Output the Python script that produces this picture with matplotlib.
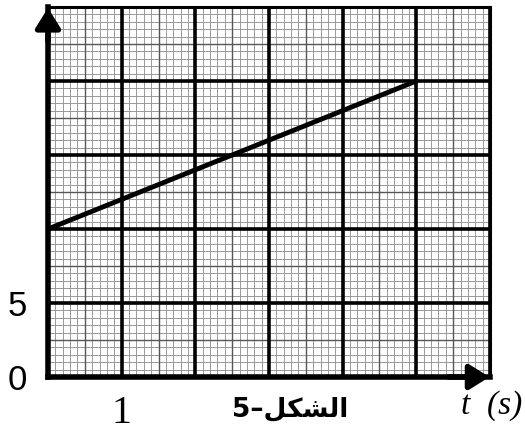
import numpy as np
import matplotlib.pyplot as plt

# data
t_vals = [0, 5]
y_vals = [10, 20]
x_ticks = [1]
x_tick_labels = ["1"]
y_ticks = [0, 5]
y_tick_labels = ["0", "5"]
x_max, y_max = 6, 25
x_major, y_major = 1, 5
caption = "5\u2013\uFEDE\uFEDC\uFEB8\uFEDF\uFE8D"  # "الشكل-5" in shaped visual order

fig = plt.figure(figsize=(5.25, 4.32), dpi=100)
W, H = 525, 432
ax = fig.add_axes([48 / W, (H - 377) / H, (490 - 48) / W, (377 - 7) / H])
ax.set_xlim(0, x_max)
ax.set_ylim(0, y_max)

# graph paper: minor, mid and major lines
for i in range(x_max * 10 + 1):
    x = i * x_major / 10
    if i % 10 == 0:
        ax.axvline(x, color="black", lw=2.6, zorder=3)
    elif i % 5 == 0:
        ax.axvline(x, color="#555555", lw=1.0, zorder=2)
    else:
        ax.axvline(x, color="#999999", lw=0.7, zorder=1)
for i in range(5 * 10 + 1):
    y = i * y_major / 10
    if i % 10 == 0:
        ax.axhline(y, color="black", lw=2.6, zorder=3)
    elif i % 5 == 0:
        ax.axhline(y, color="#555555", lw=1.0, zorder=2)
    else:
        ax.axhline(y, color="#999999", lw=0.7, zorder=1)

ax.plot(t_vals, y_vals, color="black", lw=3.5, solid_capstyle="round", zorder=4)

for side in ["top", "right"]:
    ax.spines[side].set_linewidth(2.2)
for side in ["left", "bottom"]:
    ax.spines[side].set_linewidth(4)
for sp in ax.spines.values():
    sp.set_zorder(5)

# arrows on the axes
ax.annotate("", xy=(0, 1.005), xytext=(0, 0.9), xycoords="axes fraction",
            arrowprops=dict(arrowstyle="-|>,head_length=1.2,head_width=0.75",
                            color="black", lw=4), annotation_clip=False, zorder=6)
ax.annotate("", xy=(1.005, 0), xytext=(0.9, 0), xycoords="axes fraction",
            arrowprops=dict(arrowstyle="-|>,head_length=1.2,head_width=0.75",
                            color="black", lw=4), annotation_clip=False, zorder=6)

ax.set_xticks(x_ticks)
ax.set_xticklabels(x_tick_labels, fontfamily="Liberation Serif", fontsize=29)
ax.set_yticks(y_ticks)
ax.set_yticklabels(y_tick_labels, fontfamily="Liberation Sans", fontsize=25)
ax.tick_params(axis="x", length=0, pad=13)
ax.tick_params(axis="y", length=0, pad=15)

fig.text(461 / W, 1 - 406 / H, "t  (s)", fontfamily="Liberation Serif",
         style="italic", fontsize=24, va="center", ha="left")
fig.text(290 / W, 1 - 409 / H, caption, fontfamily="DejaVu Sans",
         fontweight="bold", fontsize=19, va="center", ha="center")

fig.savefig("out.png", dpi=100)
